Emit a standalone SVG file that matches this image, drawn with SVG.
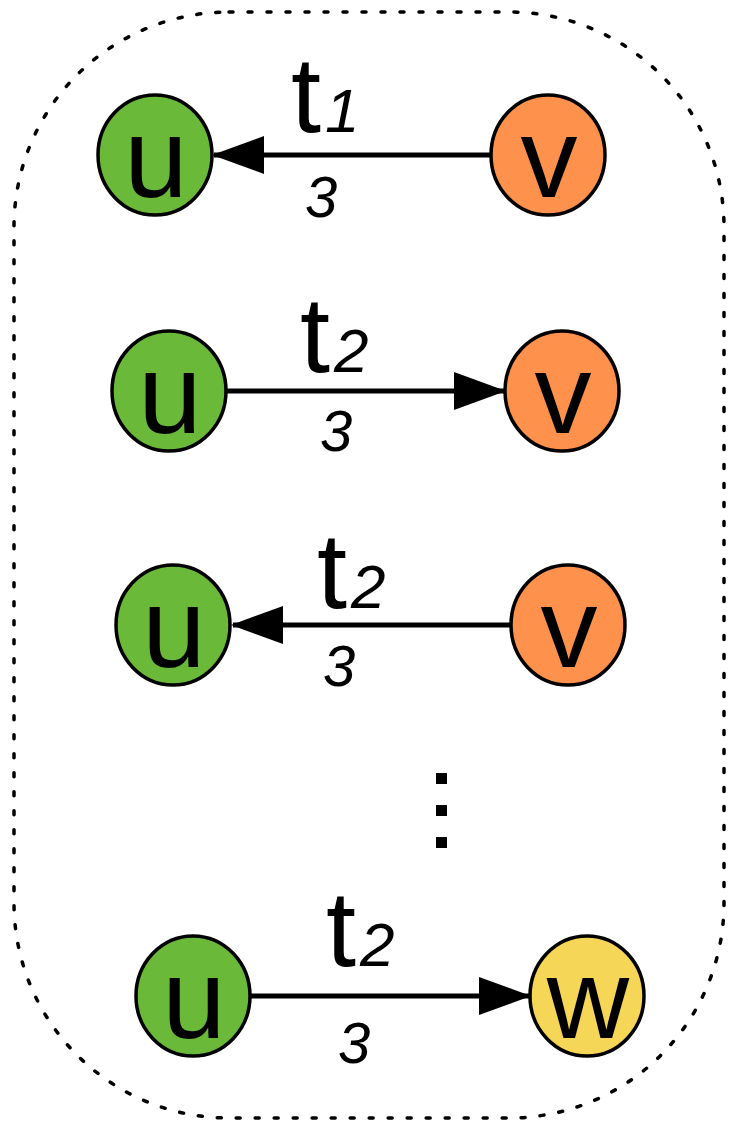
<svg xmlns="http://www.w3.org/2000/svg" width="736" height="1127" viewBox="0 0 736 1127">
  <style>
    .node { stroke: #000; stroke-width: 3.5; }
    .u { fill: #6ab939; }
    .v { fill: #fe914b; }
    .w { fill: #f5d657; }
    .nlabel { font-family: "Liberation Sans", Arial, sans-serif; font-size: 114px; fill: #000; text-anchor: middle; }
    .t { font-family: "Liberation Sans", Arial, sans-serif; font-size: 108px; fill: #000; }
    .sub { font-size: 62px; font-style: italic; }
    .wt { font-family: "Liberation Sans", Arial, sans-serif; font-size: 58px; font-style: italic; fill: #000; }
    .edge { stroke: #000; stroke-width: 5; fill: none; marker-end: url(#arrow); }
  </style>
  <defs>
    <marker id="arrow" markerUnits="userSpaceOnUse" viewBox="0 0 52 38" refX="50" refY="19" markerWidth="52" markerHeight="38" orient="auto">
      <path d="M0,0 L52,19 L0,38 Z" fill="#000"/>
    </marker>
  </defs>

  <!-- dotted frame around the sequence -->
  <rect id="frame" x="14" y="12" width="710" height="1106" rx="215" ry="215" fill="none" stroke="#000" stroke-width="3.5" stroke-dasharray="4 15" stroke-linecap="round"/>

  <!-- connectors -->
  <g id="edges">
    <line class="edge" x1="492" y1="155" x2="214" y2="155"/>
    <line class="edge" x1="227" y1="391" x2="504" y2="391"/>
    <line class="edge" x1="511" y1="625" x2="233" y2="625"/>
    <line class="edge" x1="251" y1="996" x2="529" y2="996"/>
  </g>

  <!-- edge labels -->
  <g id="labels">
    <text class="t" x="291" y="132">t<tspan class="sub" dx="4">1</tspan></text>
    <text class="wt" x="305" y="217">3</text>
    <text class="t" x="300" y="372">t<tspan class="sub" dx="4">2</tspan></text>
    <text class="wt" x="320" y="451">3</text>
    <text class="t" x="317" y="608">t<tspan class="sub" dx="4">2</tspan></text>
    <text class="wt" x="323" y="686">3</text>
    <text class="t" x="326" y="966">t<tspan class="sub" dx="4">2</tspan></text>
    <text class="wt" x="338" y="1063">3</text>
  </g>

  <!-- row 1 -->
  <g id="u1"><ellipse class="node u" cx="155" cy="155" rx="57" ry="60"/><text class="nlabel" x="156" y="197">u</text></g>
  <g id="v1"><ellipse class="node v" cx="548" cy="155" rx="57" ry="60"/><text class="nlabel" x="549" y="197">v</text></g>
  <!-- row 2 -->
  <g id="u2"><ellipse class="node u" cx="169" cy="391" rx="57" ry="60"/><text class="nlabel" x="170" y="433">u</text></g>
  <g id="v2"><ellipse class="node v" cx="562" cy="391" rx="57" ry="60"/><text class="nlabel" x="563" y="433">v</text></g>
  <!-- row 3 -->
  <g id="u3"><ellipse class="node u" cx="173" cy="625" rx="57" ry="60"/><text class="nlabel" x="174" y="667">u</text></g>
  <g id="v3"><ellipse class="node v" cx="568" cy="625" rx="57" ry="60"/><text class="nlabel" x="569" y="667">v</text></g>

  <!-- vertical ellipsis -->
  <g id="ellipsis" fill="#000">
    <rect x="436" y="773" width="11" height="11"/>
    <rect x="436" y="805" width="11" height="11"/>
    <rect x="436" y="837" width="11" height="11"/>
  </g>

  <!-- row 4 -->
  <g id="u4"><ellipse class="node u" cx="193" cy="996" rx="57" ry="60"/><text class="nlabel" x="194" y="1038">u</text></g>
  <g id="w4"><ellipse class="node w" cx="587" cy="996" rx="57" ry="60"/><text class="nlabel" x="588" y="1038">w</text></g>
</svg>
